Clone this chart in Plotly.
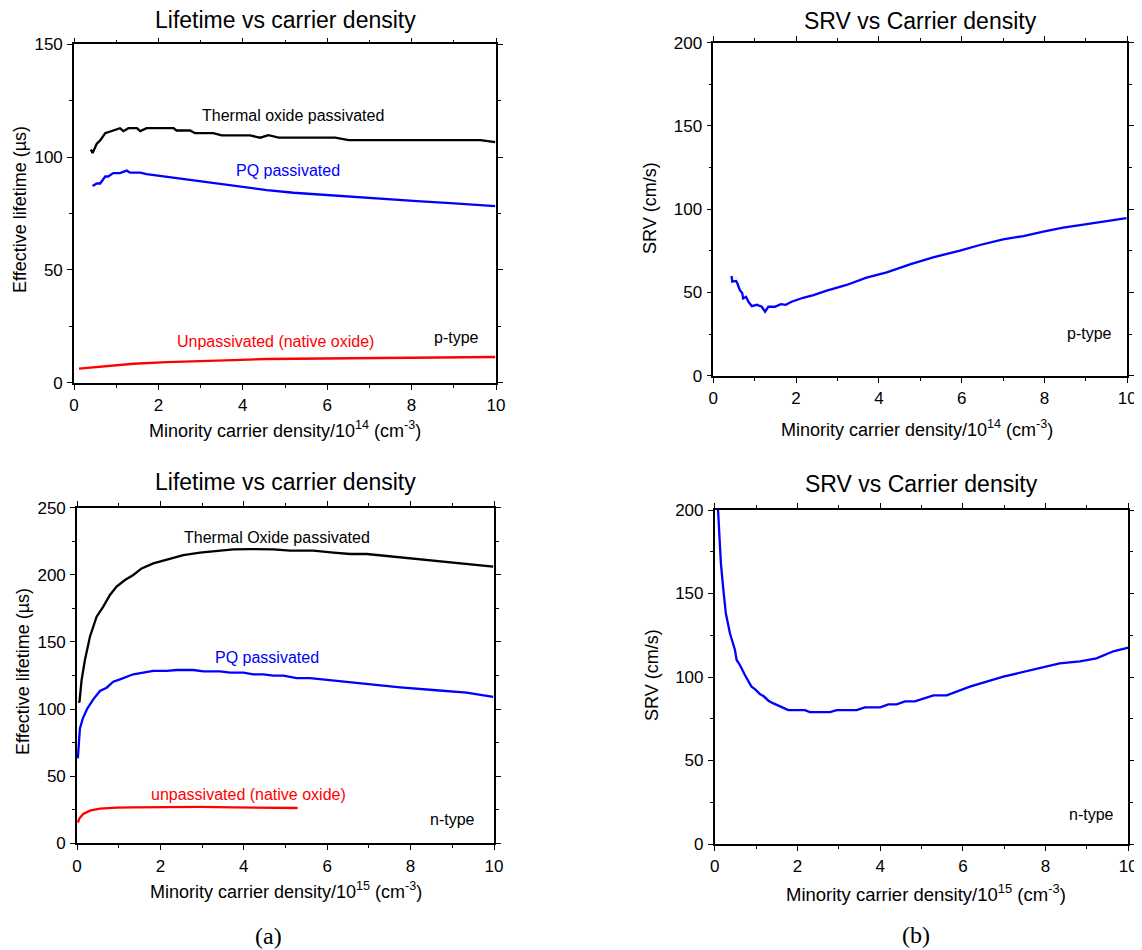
import plotly.graph_objects as go

# ---------------- data ----------------
# Top-left: p-type lifetime (us) vs carrier density /1e14
p_thermal_x = [0.40, 0.44, 0.54, 0.62, 0.74, 0.89, 1.09, 1.17, 1.29, 1.49, 1.57, 1.72, 2.36, 2.43, 2.75, 2.87, 3.30, 3.50, 4.17, 4.41, 4.61, 4.85, 6.19, 6.51, 9.63, 9.98]
p_thermal_y = [103.4, 101.8, 105.9, 107.4, 110.6, 111.5, 112.8, 111.5, 112.8, 112.8, 111.5, 112.8, 112.8, 111.8, 111.8, 110.6, 110.6, 109.6, 109.6, 108.6, 109.7, 108.6, 108.6, 107.5, 107.5, 106.6]

p_pq_x = [0.44, 0.54, 0.62, 0.74, 0.81, 0.93, 1.09, 1.25, 1.33, 1.57, 1.72, 1.96, 2.36, 2.99, 3.46, 4.02, 4.57, 5.20, 5.91, 6.47, 7.34, 8.13, 8.92, 9.98]
p_pq_y = [87.2, 88.3, 88.3, 91.4, 91.4, 92.9, 92.9, 94.0, 93.1, 93.1, 92.5, 91.9, 90.7, 89.2, 87.9, 86.7, 85.4, 84.2, 83.3, 82.3, 81.4, 80.5, 79.6, 78.3]

p_unpass_x = [0.12, 0.62, 1.41, 2.20, 2.99, 3.78, 4.57, 5.36, 6.15, 6.94, 7.73, 8.52, 9.98]
p_unpass_y = [6.2, 7.1, 8.4, 9.1, 9.7, 10.0, 10.5, 10.6, 10.9, 11.1, 11.2, 11.2, 11.4]

# Top-right: p-type SRV (cm/s)
p_srv_x = [0.44, 0.46, 0.55, 0.58, 0.64, 0.70, 0.72, 0.79, 0.85, 0.93, 1.05, 1.17, 1.25, 1.33, 1.49, 1.63, 1.75, 1.89, 2.17, 2.42, 2.74, 3.22, 3.70, 4.19, 4.75, 5.31, 5.96, 6.44, 7.00, 7.49, 7.97, 8.45, 9.02, 9.50, 9.98]
p_srv_y = [59.9, 56.5, 56.9, 55.5, 51.5, 49.5, 46.4, 47.4, 44.4, 41.8, 42.6, 41.4, 38.4, 41.4, 41.4, 43.0, 42.6, 44.4, 46.8, 48.4, 51.1, 54.5, 58.9, 62.1, 66.9, 71.1, 75.1, 78.5, 81.9, 83.9, 86.5, 88.9, 91.1, 92.7, 94.7]

# Bottom-left: n-type lifetime (us) vs carrier density /1e15
n_thermal_x = [0.03, 0.06, 0.11, 0.19, 0.31, 0.47, 0.63, 0.79, 0.95, 1.15, 1.35, 1.55, 1.83, 2.15, 2.55, 2.95, 3.35, 3.75, 4.15, 4.71, 5.11, 5.67, 6.15, 6.55, 6.95, 7.75, 8.54, 8.94, 9.34, 9.98]
n_thermal_y = [105.0, 105.5, 121.6, 136.5, 153.9, 168.8, 176.3, 185.0, 191.2, 196.1, 199.9, 204.8, 208.5, 211.5, 214.7, 216.5, 218.0, 219.0, 219.2, 219.0, 218.0, 218.0, 216.5, 215.5, 215.5, 213.0, 211.0, 209.3, 208.3, 206.1]

n_pq_x = [0.02, 0.04, 0.07, 0.14, 0.25, 0.39, 0.55, 0.71, 0.87, 1.03, 1.19, 1.35, 1.59, 1.83, 2.15, 2.39, 2.79, 3.03, 3.43, 3.67, 3.99, 4.23, 4.47, 4.71, 4.95, 5.27, 5.59, 6.15, 6.95, 7.75, 8.54, 9.34, 9.98]
n_pq_y = [63.3, 75.7, 85.6, 93.1, 100.5, 107.2, 113.5, 115.9, 120.4, 122.1, 124.1, 125.9, 127.1, 128.4, 128.4, 129.1, 129.1, 128.1, 128.1, 127.1, 127.1, 125.9, 125.9, 124.9, 124.9, 123.1, 123.1, 121.2, 118.7, 116.2, 114.2, 112.2, 109.0]

n_unpass_x = [0.02, 0.06, 0.15, 0.31, 0.55, 0.95, 1.35, 2.15, 2.95, 3.75, 4.55, 5.29]
n_unpass_y = [15.4, 18.6, 21.8, 24.3, 25.8, 26.6, 26.8, 27.1, 27.1, 26.8, 26.6, 26.3]

# Bottom-right: n-type SRV (cm/s)
n_srv_x = [0.07, 0.11, 0.15, 0.21, 0.27, 0.37, 0.49, 0.53, 0.61, 0.73, 0.89, 0.98, 1.10, 1.18, 1.30, 1.42, 1.54, 1.66, 1.78, 2.18, 2.30, 2.79, 2.95, 3.43, 3.63, 4.00, 4.20, 4.40, 4.60, 4.84, 5.29, 5.61, 6.17, 6.98, 7.78, 8.34, 8.83, 9.23, 9.64, 10.0]
n_srv_y = [205.0, 184.0, 168.0, 152.0, 138.0, 126.0, 116.2, 110.2, 107.2, 101.2, 94.2, 92.6, 89.6, 88.6, 85.8, 84.2, 82.8, 81.8, 80.2, 80.2, 79.0, 79.0, 80.2, 80.2, 81.8, 81.8, 83.6, 83.6, 85.4, 85.4, 89.0, 89.0, 94.2, 100.2, 105.0, 108.2, 109.4, 111.2, 115.4, 117.6]

x_ticks = [0, 2, 4, 6, 8, 10]

# ---------------- figure ----------------
# The page body has an 8px margin, so the figure is drawn 8px smaller and
# all page positions below are converted with that offset.
OFF = 8
W, H = 1142 - OFF, 950 - OFF
FONT = "Arial, Liberation Sans, sans-serif"
SERIF = "Times New Roman, Liberation Serif, serif"
BLACK, BLUE, RED = "#000000", "#0000FF", "#FF0000"

fig = go.Figure()

def line(x, y, color, xa, ya):
    fig.add_trace(go.Scatter(x=x, y=y, mode="lines", line=dict(color=color, width=2.3),
                             xaxis=xa, yaxis=ya, showlegend=False, hoverinfo="skip"))

line(p_thermal_x, p_thermal_y, BLACK, "x", "y")
line(p_pq_x, p_pq_y, BLUE, "x", "y")
line(p_unpass_x, p_unpass_y, RED, "x", "y")
line(p_srv_x, p_srv_y, BLUE, "x2", "y2")
line(n_thermal_x, n_thermal_y, BLACK, "x3", "y3")
line(n_pq_x, n_pq_y, BLUE, "x3", "y3")
line(n_unpass_x, n_unpass_y, RED, "x3", "y3")
line(n_srv_x, n_srv_y, BLUE, "x4", "y4")

def px(v):
    return (v - OFF) / W

def py(v):
    return 1 - (v - OFF) / H

def axis_common():
    return dict(showline=True, linecolor="black", linewidth=1.6, mirror="ticks",
                ticks="outside", ticklen=5, tickwidth=1.3, tickcolor="black",
                showgrid=False, zeroline=False,
                tickfont=dict(family=FONT, size=17, color="black"),
                minor=dict(ticks="outside", ticklen=3, tickwidth=1.3, tickcolor="black", showgrid=False))

panels = [
    ("xaxis", "yaxis", "x", "y", (74, 496), (44.3, 382.7), 150),
    ("xaxis2", "yaxis2", "x2", "y2", (713.3, 1127.3), (42.7, 375.7), 200),
    ("xaxis3", "yaxis3", "x3", "y3", (77, 494), (507.7, 843.3), 250),
    ("xaxis4", "yaxis4", "x4", "y4", (714.7, 1128.3), (510, 844), 200),
]

layout = dict(width=W, height=H, margin=dict(l=0, r=0, t=0, b=0, autoexpand=False),
              paper_bgcolor="white", plot_bgcolor="white", showlegend=False)

for xk, yk, xa, ya, (x0, x1), (y0, y1), ymax in panels:
    xd = axis_common()
    xd.update(domain=[px(x0), px(x1)], range=[0, 10], tickvals=x_ticks, anchor=ya,
              ticklabelstandoff=1)
    xd["minor"].update(dtick=1, tick0=0)
    yd = axis_common()
    yd.update(domain=[py(y1), py(y0)], range=[0, ymax], dtick=50, tick0=0, anchor=xa,
              ticklabelstandoff=1)
    yd["minor"].update(dtick=25, tick0=0)
    layout[xk] = xd
    layout[yk] = yd

fig.update_layout(**layout)

def ann(text, x, y, size=16, color="black", angle=0, family=FONT):
    fig.add_annotation(text=text, x=px(x), y=py(y), xref="paper", yref="paper",
                       showarrow=False, textangle=angle, xanchor="center", yanchor="middle",
                       font=dict(family=family, size=size, color=color))

# Titles
ann("Lifetime vs carrier density", 285, 20, size=23)
ann("SRV vs Carrier density", 920, 21, size=23)
ann("Lifetime vs carrier density", 285.5, 482, size=23)
ann("SRV vs Carrier density", 921, 484, size=23)

# Axis titles
ann("Minority carrier density/10<sup>14</sup> (cm<sup>-3</sup>)", 285, 429, size=18)
ann("Minority carrier density/10<sup>14</sup> (cm<sup>-3</sup>)", 917, 428, size=18)
ann("Minority carrier density/10<sup>15</sup> (cm<sup>-3</sup>)", 285.5, 890, size=18)
ann("Minority carrier density/10<sup>15</sup> (cm<sup>-3</sup>)", 926, 893, size=18.5)

ann("Effective lifetime (µs)", 20, 210, size=18, angle=-90)
ann("SRV (cm/s)", 650, 208, size=18, angle=-90)
ann("Effective lifetime (µs)", 23, 672, size=18, angle=-90)
ann("SRV (cm/s)", 652, 675, size=18, angle=-90)

# Curve labels
ann("Thermal oxide passivated", 293, 116)
ann("PQ passivated", 288, 171, color=BLUE)
ann("Unpassivated (native oxide)", 275, 341, color=RED)
ann("p-type", 456, 337)
ann("p-type", 1089, 334)

ann("Thermal Oxide passivated", 277, 537)
ann("PQ passivated", 267, 657, color=BLUE)
ann("unpassivated (native oxide)", 248, 794, color=RED)
ann("n-type", 452, 819)
ann("n-type", 1091, 814)

# Panel letters
ann("(a)", 268, 936, size=24, family=SERIF)
ann("(b)", 916, 935, size=24, family=SERIF)

fig.write_html("out.html")
